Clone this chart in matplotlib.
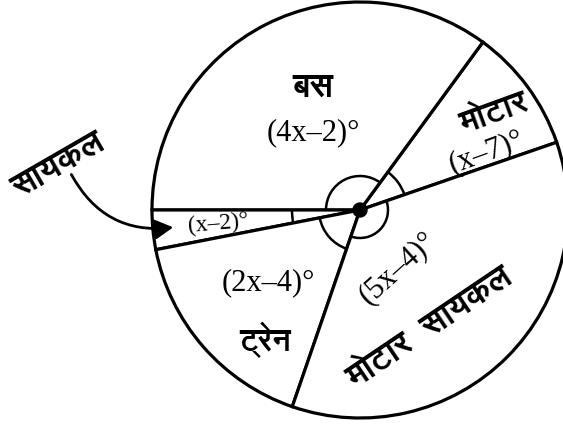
import matplotlib
matplotlib.use("Agg")
import matplotlib.pyplot as plt
from matplotlib.patches import Arc, Circle, FancyArrowPatch
from matplotlib import font_manager
from matplotlib.ft2font import FT2Font

# ---- data (angles in degrees as drawn) ----
categories = ["मोटार", "बस", "सायकल", "ट्रेन", "मोटार  सायकल"]
angle_labels = ["(x–7)°", "(4x–2)°", "(x–2)°", "(2x–4)°", "(5x–4)°"]
angles = [34.8, 126.2, 11.0, 60.0, 128.0]
start_angle = 19.0

# find a font with Devanagari glyphs
deva = None
for f in font_manager.fontManager.ttflist:
    try:
        ft = FT2Font(f.fname)
        if ft.get_char_index(0x0938) and ft.get_char_index(0x092E):
            deva = f.name
            if "Sans" in f.name:
                break
    except Exception:
        pass
deva_family = [deva, "DejaVu Sans"] if deva else ["DejaVu Sans"]
serif = ["Liberation Serif", "DejaVu Serif"]

W, H = 563, 428
fig = plt.figure(figsize=(W / 100, H / 100), dpi=100)
ax = fig.add_axes([0, 0, 1, 1])

cx, cy, R = 360, H - 210, 208

ax.pie(angles, startangle=start_angle, counterclock=True, center=(cx, cy), radius=R,
       colors=["white"] * len(angles),
       wedgeprops=dict(edgecolor="black", linewidth=2.3), frame=True)
ax.set_xlim(0, W)
ax.set_ylim(0, H)
ax.set_aspect("equal")
ax.axis("off")

# angle arcs near the centre
bounds = [start_angle]
for a in angles:
    bounds.append(bounds[-1] + a)
arc_r = [47, 34, 68, 41, 28]
for i in range(len(angles)):
    ax.add_patch(Arc((cx, cy), 2 * arc_r[i], 2 * arc_r[i], theta1=bounds[i], theta2=bounds[i + 1],
                     color="black", lw=1.8, zorder=5))
ax.add_patch(Circle((cx, cy), 7, color="black", zorder=6))

def T(x, y, s, size, rot=0, fam=None):
    ax.text(x, H - y, s, fontsize=size, rotation=rot, ha="center", va="center",
            family=fam or deva_family, color="black", fontweight="bold" if fam is None else "normal",
            rotation_mode="anchor", zorder=7)

# labels
T(313, 87, categories[1], 24)
T(313, 133, angle_labels[1], 22, fam=serif)
T(494, 113, categories[0], 23, rot=20)
T(486, 152, angle_labels[0], 22, rot=20, fam=serif)
T(218, 224, angle_labels[2], 17, rot=5, fam=serif)
T(268, 283, angle_labels[3], 22, fam=serif)
T(265, 340, categories[3], 22)
T(398, 268, angle_labels[4], 22, rot=42, fam=serif)
T(430, 328, categories[4], 24, rot=34)
T(58, 165, categories[2], 24, rot=30)

arr = FancyArrowPatch((70, H - 172), (176, H - 227), connectionstyle="arc3,rad=0.35",
                      arrowstyle="-|>,head_length=11,head_width=6", color="black", lw=2, zorder=7)
ax.add_patch(arr)

fig.savefig("out.png", dpi=100, facecolor="white")
